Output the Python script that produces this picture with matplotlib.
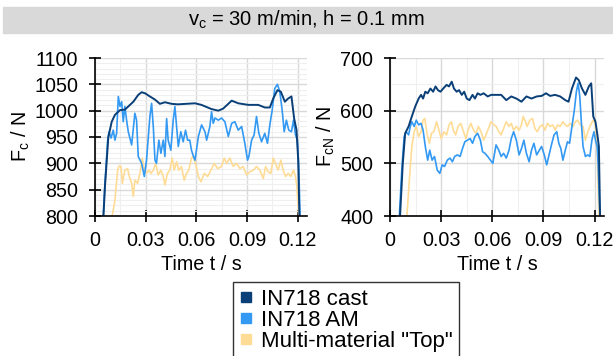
import matplotlib
matplotlib.use('Agg')
import matplotlib.pyplot as plt
from matplotlib.lines import Line2D
from matplotlib.patches import Rectangle
from matplotlib.ticker import MultipleLocator

plt.rcParams['font.family'] = ['Liberation Sans', 'DejaVu Sans']
plt.rcParams['mathtext.fontset'] = 'custom'
plt.rcParams['mathtext.rm'] = 'Liberation Sans'
plt.rcParams['mathtext.it'] = 'Liberation Sans'

title = '$\\mathrm{v_c}$ = 30 m/min, h = 0.1 mm'
labels = ['IN718 cast', 'IN718 AM', 'Multi-material "Top"']
colors = ['#0a3f78', '#3399f3', '#ffdc96']
x_ticks = [0, 0.03, 0.06, 0.09, 0.12]
x_ticklabels = ['0', '0.03', '0.06', '0.09', '0.12']

# cutting force Fc (left)
t_fc_cast = [0.005, 0.0059, 0.0079, 0.0099, 0.0118, 0.0148, 0.0177, 0.0197, 0.0227, 0.0256,
             0.0276, 0.0296, 0.0325, 0.0355, 0.0384, 0.0414, 0.0453, 0.049, 0.054, 0.0592,
             0.063, 0.069, 0.073, 0.0759, 0.0809, 0.0848, 0.0907, 0.0966, 0.1006, 0.1035,
             0.1055, 0.108, 0.11, 0.1124, 0.1143, 0.1163, 0.1179, 0.1193, 0.1203, 0.121]
fc_cast = [800, 856, 950, 979, 992, 1001, 1002, 1008, 1017, 1030,
           1035, 1033, 1027, 1021, 1013, 1016, 1013, 1012, 1013, 1014,
           1011, 1003, 1000, 1004, 1019, 1014, 1011, 1011, 1006, 1006,
           1023, 1039, 1036, 1017, 1023, 1027, 985, 963, 906, 800]

t_fc_am = [0.0049, 0.0059, 0.0075, 0.0083, 0.0095, 0.0108, 0.0118, 0.0128, 0.0138, 0.0148,
           0.0158, 0.0167, 0.0177, 0.0187, 0.0197, 0.0217, 0.0236, 0.0246, 0.0256, 0.0276,
           0.0292, 0.0305, 0.0325, 0.0335, 0.0345, 0.0355, 0.0364, 0.0378, 0.039, 0.0404,
           0.0414, 0.0424, 0.0433, 0.0449, 0.0463, 0.0473, 0.0483, 0.0493, 0.0508, 0.0522,
           0.0536, 0.0548, 0.0561, 0.0571, 0.0583, 0.0592, 0.0612, 0.0631, 0.0651, 0.0661,
           0.068, 0.069, 0.07, 0.071, 0.073, 0.0749, 0.0769, 0.0789, 0.0809, 0.0828,
           0.0848, 0.0868, 0.0887, 0.0903, 0.0911, 0.0927, 0.0942, 0.0956, 0.097, 0.0986,
           0.1005, 0.1021, 0.1035, 0.1049, 0.1064, 0.108, 0.1094, 0.1108, 0.112, 0.1133,
           0.1147, 0.1163, 0.1175, 0.1187, 0.1198, 0.1206, 0.1214]
fc_am = [800, 862, 944, 960, 948, 963, 944, 957, 1027, 1008,
         1017, 979, 1008, 982, 960, 935, 995, 982, 913, 900,
         875, 906, 989, 1014, 970, 906, 900, 944, 919, 944,
         913, 985, 944, 925, 982, 1008, 970, 932, 960, 941,
         963, 944, 944, 925, 913, 906, 951, 973, 960, 944,
         970, 998, 976, 986, 982, 986, 979, 951, 976, 979,
         963, 970, 938, 906, 913, 944, 954, 989, 957, 941,
         957, 938, 973, 1001, 1042, 1050, 1036, 1001, 960, 982,
         963, 960, 982, 954, 944, 894, 800]

t_fc_mm = [0.0102, 0.0118, 0.0134, 0.0142, 0.0154, 0.0162, 0.0177, 0.0193, 0.0203, 0.0217,
           0.0227, 0.0236, 0.0252, 0.0266, 0.028, 0.0292, 0.0305, 0.0319, 0.0331, 0.0345,
           0.0359, 0.0374, 0.039, 0.0404, 0.0414, 0.0429, 0.0443, 0.0457, 0.0469, 0.0483,
           0.0496, 0.0512, 0.0528, 0.0542, 0.0555, 0.0571, 0.0581, 0.0595, 0.0612, 0.0627,
           0.0647, 0.0667, 0.0686, 0.0706, 0.0726, 0.0749, 0.0765, 0.0779, 0.0799, 0.0818,
           0.0838, 0.0858, 0.0877, 0.0897, 0.0917, 0.0937, 0.0956, 0.0976, 0.0996, 0.101,
           0.1025, 0.1041, 0.1055, 0.1068, 0.1084, 0.11, 0.1114, 0.1128, 0.1143, 0.1159,
           0.1175, 0.1187, 0.1195, 0.1206]
fc_mm = [800, 830, 887, 895, 894, 862, 887, 890, 875, 862,
         837, 868, 862, 881, 910, 887, 881, 887, 881, 887,
         900, 878, 887, 875, 859, 881, 887, 910, 887, 903,
         887, 894, 868, 881, 887, 910, 913, 900, 875, 865,
         881, 875, 887, 900, 890, 894, 910, 900, 910, 894,
         900, 890, 894, 878, 884, 887, 894, 887, 871, 894,
         884, 881, 910, 900, 887, 906, 887, 875, 881, 875,
         887, 875, 856, 800]

# passive / normal force FcN (right)
t_fcn_cast = [0.0059, 0.0075, 0.0089, 0.0109, 0.0128, 0.0148, 0.0168, 0.0182, 0.0194, 0.0207,
              0.0221, 0.0237, 0.0253, 0.0267, 0.0281, 0.0296, 0.0312, 0.0332, 0.0346, 0.0362,
              0.0375, 0.0391, 0.0405, 0.0421, 0.0435, 0.045, 0.0466, 0.0484, 0.0498, 0.0514,
              0.053, 0.0549, 0.0573, 0.0593, 0.0622, 0.0652, 0.0682, 0.0711, 0.0741, 0.0771,
              0.08, 0.083, 0.086, 0.0889, 0.0915, 0.0939, 0.0968, 0.0998, 0.1028, 0.1047,
              0.1067, 0.1091, 0.1107, 0.1126, 0.1146, 0.1166, 0.118, 0.1192, 0.1205, 0.1215,
              0.1225, 0.1232]
fcn_cast = [400, 500, 557, 570, 589, 608, 623, 630, 623, 636,
            633, 642, 636, 646, 639, 636, 642, 649, 646, 655,
            642, 636, 639, 630, 636, 623, 620, 630, 623, 633,
            630, 633, 627, 630, 630, 630, 620, 627, 623, 617,
            627, 623, 627, 628, 633, 628, 630, 627, 620, 617,
            642, 663, 658, 642, 630, 646, 652, 589, 579, 557,
            532, 400]

t_fcn_am = [0.0055, 0.0069, 0.0083, 0.0095, 0.0109, 0.0119, 0.0128, 0.0142, 0.0154, 0.0168,
            0.0182, 0.0194, 0.0207, 0.0221, 0.0233, 0.0247, 0.0261, 0.0277, 0.0292, 0.0306,
            0.032, 0.0336, 0.0352, 0.0366, 0.0379, 0.0395, 0.0411, 0.0425, 0.0439, 0.0454,
            0.047, 0.0484, 0.0498, 0.0514, 0.053, 0.0543, 0.0557, 0.0573, 0.0589, 0.0603,
            0.0622, 0.0638, 0.0652, 0.0666, 0.0682, 0.0698, 0.0711, 0.0725, 0.0741, 0.0757,
            0.0771, 0.0785, 0.08, 0.0816, 0.083, 0.0844, 0.086, 0.0876, 0.0889, 0.0905,
            0.0919, 0.0935, 0.0949, 0.0962, 0.0978, 0.099, 0.1002, 0.1014, 0.1028, 0.1041,
            0.1053, 0.1067, 0.1081, 0.1093, 0.1103, 0.1113, 0.1122, 0.1132, 0.1146, 0.116,
            0.1172, 0.1184, 0.1196, 0.1207, 0.1215, 0.1221, 0.1231]
fcn_am = [400, 487, 551, 560, 554, 570, 579, 570, 582, 573,
          576, 563, 532, 506, 525, 506, 513, 487, 481, 497,
          494, 506, 510, 503, 513, 516, 513, 528, 541, 544,
          547, 538, 551, 557, 544, 522, 519, 513, 506, 500,
          535, 525, 513, 519, 510, 525, 547, 560, 544, 516,
          528, 544, 519, 503, 525, 538, 516, 525, 532, 516,
          497, 519, 538, 554, 560, 538, 528, 506, 525, 541,
          538, 570, 601, 636, 652, 627, 579, 532, 513, 516,
          513, 544, 560, 541, 532, 494, 400]

t_fcn_mm = [0.0099, 0.0115, 0.0128, 0.0142, 0.0154, 0.0168, 0.0182, 0.0194, 0.0204, 0.0217,
            0.0231, 0.0243, 0.0257, 0.0273, 0.0287, 0.03, 0.0316, 0.0332, 0.0346, 0.036,
            0.0371, 0.0385, 0.0399, 0.0415, 0.0431, 0.0445, 0.0458, 0.0474, 0.049, 0.0504,
            0.0518, 0.0534, 0.0549, 0.0563, 0.0577, 0.0593, 0.0609, 0.0623, 0.0638, 0.0652,
            0.0666, 0.0682, 0.0698, 0.0711, 0.0725, 0.0741, 0.0757, 0.0771, 0.0781, 0.0791,
            0.0804, 0.082, 0.0836, 0.085, 0.0864, 0.0879, 0.0895, 0.0909, 0.0923, 0.0939,
            0.0955, 0.0968, 0.0982, 0.0998, 0.1014, 0.1028, 0.1041, 0.1057, 0.1073, 0.1087,
            0.11, 0.1116, 0.1132, 0.1146, 0.116, 0.1176, 0.1192, 0.1203, 0.1215, 0.1225]
fcn_mm = [400, 475, 532, 560, 570, 551, 560, 582, 585, 557,
          538, 557, 560, 579, 563, 547, 560, 554, 573, 579,
          563, 554, 570, 576, 560, 547, 563, 576, 563, 557,
          570, 560, 544, 554, 566, 579, 573, 570, 560, 554,
          566, 579, 570, 576, 563, 570, 563, 573, 589, 582,
          570, 582, 585, 566, 560, 570, 573, 563, 576, 570,
          573, 563, 573, 570, 579, 573, 570, 576, 570, 579,
          582, 573, 570, 544, 560, 573, 582, 576, 525, 400]


def style_axis(ax, ylim, ymajor, yminor):
    ax.set_xlim(0, 0.1255)
    ax.set_ylim(*ylim)
    ax.set_xticks(x_ticks)
    ax.set_xticklabels(x_ticklabels)
    ax.xaxis.set_minor_locator(MultipleLocator(0.015))
    ax.yaxis.set_major_locator(MultipleLocator(ymajor))
    ax.yaxis.set_minor_locator(MultipleLocator(yminor))
    ax.grid(which='major', color='#d9d9d9', linewidth=1.0)
    ax.grid(which='minor', color='#efefef', linewidth=0.8)
    ax.set_axisbelow(True)
    for s in ['top', 'right']:
        ax.spines[s].set_visible(False)
    for s in ['left', 'bottom']:
        ax.spines[s].set_linewidth(1.2)
    ax.tick_params(which='major', direction='inout', length=9, width=1.2,
                   labelsize=14.2)
    ax.tick_params(axis='y', pad=7.5)
    ax.tick_params(axis='x', pad=6)
    ax.tick_params(which='minor', length=0)
    ax.set_xlabel('Time t / s', fontsize=14.2, labelpad=4)


fig = plt.figure(figsize=(6.13, 3.56), dpi=100)
fig.patches.append(Rectangle((3 / 613, 1 - 33 / 356), 1, 26 / 356,
                             transform=fig.transFigure, color='#d9d9d9', zorder=0))
fig.text(0.5, 1 - 20 / 356, title, ha='center', va='center', fontsize=14.5)

ax1 = fig.add_axes([95 / 613, 1 - 216 / 356, 212 / 613, 158 / 356])
ax1.plot(t_fc_mm, fc_mm, color=colors[2], lw=1.2)
ax1.plot(t_fc_am, fc_am, color=colors[1], lw=1.2)
ax1.plot(t_fc_cast, fc_cast, color=colors[0], lw=1.4)
style_axis(ax1, (800, 1100), 50, 10)
ax1.set_ylabel('F$_\\mathrm{c}$ / N', fontsize=14.2, labelpad=2)

ax2 = fig.add_axes([390 / 613, 1 - 216 / 356, 214 / 613, 158 / 356])
ax2.plot(t_fcn_mm, fcn_mm, color=colors[2], lw=1.2)
ax2.plot(t_fcn_am, fcn_am, color=colors[1], lw=1.2)
ax2.plot(t_fcn_cast, fcn_cast, color=colors[0], lw=1.4)
style_axis(ax2, (400, 700), 100, 50)
ax2.set_ylabel('F$_\\mathrm{cN}$ / N', fontsize=14.2, labelpad=2)

handles = [Line2D([], [], color=c, marker='s', linestyle='none', markersize=7.5) for c in colors]
leg = fig.legend(handles, labels, loc='upper left', bbox_to_anchor=(233 / 613, 1 - 282 / 356),
                 fontsize=16, frameon=True, fancybox=False, handlelength=0.6,
                 handletextpad=0.35, labelspacing=0.0, borderpad=0.3, borderaxespad=0)
leg.get_frame().set_edgecolor('black')
leg.get_frame().set_linewidth(1.0)

fig.savefig('out.png', dpi=100)
